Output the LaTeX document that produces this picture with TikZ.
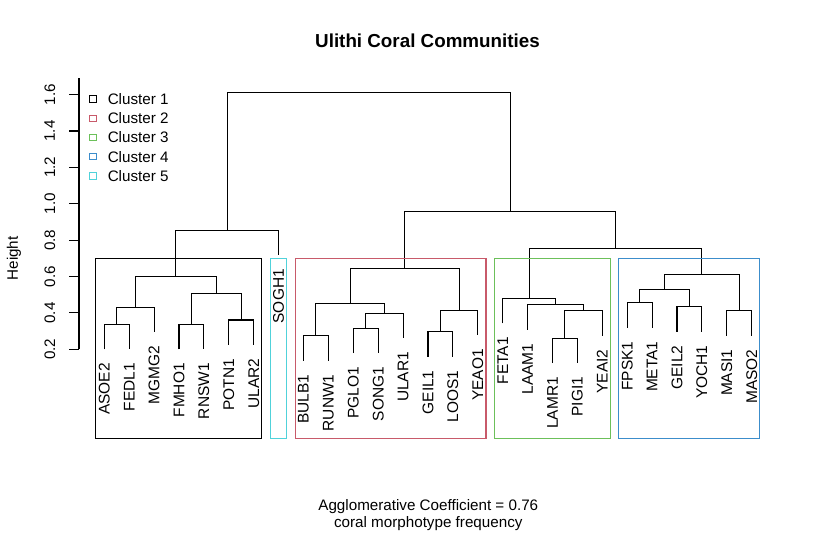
\documentclass[tikz,border=0pt]{standalone}
\usepackage{fontspec}
\setmainfont{Liberation Sans}
\usetikzlibrary{calc}
\definecolor{clustA}{HTML}{000000}
\definecolor{clustB}{HTML}{C85A6A}
\definecolor{clustC}{HTML}{6CC05A}
\definecolor{clustD}{HTML}{3C8DCB}
\definecolor{clustE}{HTML}{50D2DA}
\tikzset{
	dendro/.style={line width=0.8pt, line join=miter},
	leaflab/.style={rotate=90, anchor=east, inner sep=0pt, font=\fontsize{11.6}{13.9}\selectfont},
	clbox/.style={line width=0.8pt},
}
\def\merge(#1,#2)(#3,#4)(#5){\draw[dendro] (#1,#2) -- (#1,#5) -- (#3,#5) -- (#3,#4);}

\begin{document}
\begin{tikzpicture}[x=0.75pt, y=-0.75pt, font=\fontsize{11.4}{13.7}\selectfont]
			%%%%% START %%%%%
			\fill[white] (0,0) rectangle (818,536);
			\useasboundingbox (0,0) rectangle (818,536);
			
			\node[font=\fontsize{14.1}{17}\selectfont\bfseries] (title) at (427.5,40.7) {Ulithi Coral Communities};
			\node (coef) at (428.3,506.7) {Agglomerative Coefficient = 0.76};
			\node (sub) at (428.3,524) {coral morphotype frequency};
			\node[rotate=90] (ylab) at (14,258.3) {Height};
			
			% legend
			\foreach \col/\lab [count=\k from 0] in {clustA/Cluster 1,clustB/Cluster 2,clustC/Cluster 3,clustD/Cluster 4,clustE/Cluster 5}{
				\draw[line width=0.7pt, color=\col] (89.4,95.9+19.1*\k) rectangle ++(6.7,6.7);
				\node[anchor=west, inner sep=0pt] (leg\k) at (107.5,99.3+19.1*\k) {\lab};
			}
			
			\begin{scope}[xshift=78.225pt, yshift=-289.26pt, x=18.675pt, y=136.425pt]
			% axis
			\draw[line width=0.8pt] (-1.016,0.2) -- (-1.016,1.69);
			\foreach \h in {0.2,0.4,0.6,0.8,1.0,1.2,1.4,1.6}{
				\draw[line width=0.8pt] (-1.016,\h) -- (-1.406,\h);
				\node[rotate=90] at (-2.19,\h) {\h};
			}
			
			% leaves
			\foreach \lab/\hb [count=\i from 0] in {ASOE2/0.200,FEDL1/0.200,MGMG2/0.294,FMHO1/0.200,RNSW1/0.200,POTN1/0.224,ULAR2/0.224,SOGH1/0.717,BULB1/0.138,RUNW1/0.138,PGLO1/0.179,SONG1/0.179,ULAR1/0.261,GEIL1/0.160,LOOS1/0.160,YEAO1/0.277,FETA1/0.343,LAAM1/0.308,LAMR1/0.124,PIGI1/0.124,YEAI2/0.275,FPSK1/0.319,META1/0.319,GEIL2/0.297,YOCH1/0.297,MASI1/0.275,MASO2/0.275}{
				\node[leaflab] (\lab) at (\i,\hb-0.075) {\lab};
			}
			
			% cluster 1 + SOGH1
			\merge(0,0.200)(1,0.200)(0.337)
			\merge(0.5,0.337)(2,0.294)(0.431)
			\merge(3,0.200)(4,0.200)(0.337)
			\merge(5,0.224)(6,0.224)(0.361)
			\merge(3.5,0.337)(5.5,0.361)(0.506)
			\merge(1.25,0.431)(4.5,0.506)(0.601)
			\merge(2.875,0.601)(7,0.717)(0.854)
			
			% cluster 2
			\merge(8,0.138)(9,0.138)(0.275)
			\merge(10,0.179)(11,0.179)(0.316)
			\merge(10.5,0.316)(12,0.261)(0.398)
			\merge(8.5,0.275)(11.25,0.398)(0.451)
			\merge(13,0.160)(14,0.160)(0.297)
			\merge(13.5,0.297)(15,0.277)(0.414)
			\merge(9.875,0.451)(14.25,0.414)(0.643)
			
			% cluster 3
			\merge(18,0.124)(19,0.124)(0.261)
			\merge(18.5,0.261)(20,0.275)(0.412)
			\merge(17,0.308)(19.25,0.412)(0.445)
			\merge(16,0.343)(18.125,0.445)(0.480)
			
			% cluster 4
			\merge(21,0.319)(22,0.319)(0.456)
			\merge(23,0.297)(24,0.297)(0.434)
			\merge(21.5,0.456)(23.5,0.434)(0.530)
			\merge(25,0.275)(26,0.275)(0.412)
			\merge(22.5,0.530)(25.5,0.412)(0.610)
			
			% upper joins
			\merge(17.0625,0.480)(24,0.610)(0.753)
			\merge(12.0625,0.643)(20.53125,0.753)(0.959)
			\merge(4.9375,0.854)(16.296875,0.959)(1.613)
			
			% cluster boxes
			\draw[clbox, color=clustA] (-0.34,-0.289) rectangle (6.33,0.698);
			\draw[clbox, color=clustE] (6.66,-0.289) rectangle (7.33,0.698);
			\draw[clbox, color=clustB] (7.66,-0.289) rectangle (15.33,0.698);
			\draw[clbox, color=clustC] (15.66,-0.289) rectangle (20.33,0.698);
			\draw[clbox, color=clustD] (20.66,-0.289) rectangle (26.33,0.698);
			\end{scope}
			
			%%%%% END %%%%%
\end{tikzpicture}
\end{document}
